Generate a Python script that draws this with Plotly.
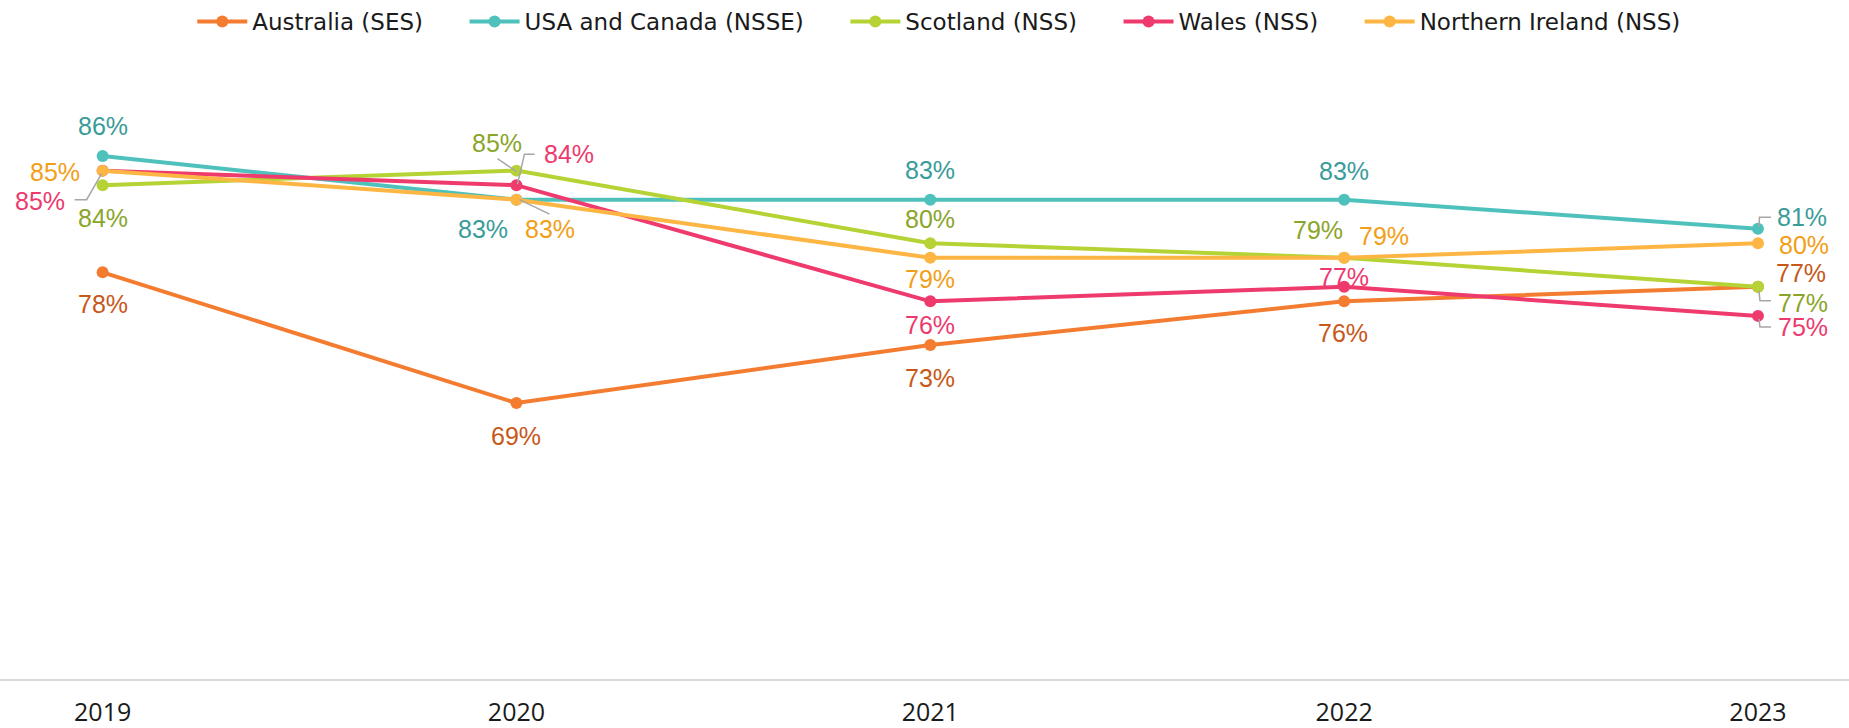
import plotly.graph_objects as go

years = [2019, 2020, 2021, 2022, 2023]
year_labels = ["2019", "2020", "2021", "2022", "2023"]

series_names = ["Australia (SES)", "USA and Canada (NSSE)", "Scotland (NSS)", "Wales (NSS)", "Northern Ireland (NSS)"]
australia = [78, 69, 73, 76, 77]
usa_canada = [86, 83, 83, 83, 81]
scotland = [84, 85, 80, 79, 77]
wales = [85, 84, 76, 77, 75]
northern_ireland = [85, 83, 79, 79, 80]
series_values = [australia, usa_canada, scotland, wales, northern_ireland]

line_colors = ["#F47C30", "#4FC1BC", "#B5D334", "#EE3A6D", "#FDB643"]
label_colors = ["#C8581A", "#3A9C99", "#8AA52A", "#EC3A6E", "#F29E16"]

# label offsets in pixels (dx right, dy down) relative to each point
label_offsets = [
    [(0, 32), (0, 33), (0, 33.5), (-1, 31.5), (43, -14)],
    [(0, -30), (-33, 29.5), (0, -29.5), (0, -29), (44, -11.5)],
    [(0, 33), (-19, -28), (0, -24), (-26, -28), (45, 16)],
    [(-63, 30), (53, -31), (0, 24), (0, -10), (45, 11)],
    [(-48, 1.5), (34, 29.5), (0, 21), (40, -22), (46, 2)],
]

# leader lines: (series index, year index, pixel path with y up)
leaders = [
    (3, 0, [(-1, -3), (-16, -29), (-28, -29)]),
    (2, 1, [(-19, 12), (0, -1)]),
    (3, 1, [(18, 31), (8, 31), (1, 1)]),
    (4, 1, [(3, 0), (33, -14.5)]),
    (1, 4, [(1, 2), (1.5, 11.5), (13, 11.5)]),
    (2, 4, [(1, -4), (2, -14), (13, -14)]),
    (3, 4, [(1, -3), (2, -11), (13, -11)]),
]

fig = go.Figure()
n = len(series_names)
for i, (name, vals, col) in enumerate(zip(series_names, series_values, line_colors)):
    pad = "\u00a0" * 5 if i < n - 1 else ""
    fig.add_trace(go.Scatter(
        x=years, y=vals, name=name + pad, mode="lines+markers",
        line=dict(color=col, width=4),
        marker=dict(color=col, size=12),
        hoverinfo="skip",
    ))

annotations = []
for si, vals in enumerate(series_values):
    for yi, v in enumerate(vals):
        dx, dy = label_offsets[si][yi]
        annotations.append(dict(
            x=years[yi], y=v, xref="x", yref="y",
            text=f"{v}%", showarrow=False,
            xshift=dx, yshift=-dy,
            font=dict(family="Liberation Sans, Arial, sans-serif", size=25, color=label_colors[si]),
        ))

shapes = []
for si, yi, pts in leaders:
    path = "M " + " L ".join(f"{px},{py}" for px, py in pts)
    shapes.append(dict(
        type="path", xref="x", yref="y",
        xsizemode="pixel", ysizemode="pixel",
        xanchor=years[yi], yanchor=series_values[si][yi],
        path=path, line=dict(color="#A6A6A6", width=1.5),
    ))

fig.update_layout(
    width=1849, height=728,
    margin=dict(l=0, r=0, t=98, b=47),
    plot_bgcolor="white", paper_bgcolor="white",
    showlegend=True,
    legend=dict(
        orientation="h", xref="container", yref="container",
        x=0.508, xanchor="center", y=1.0, yanchor="top",
        font=dict(family="DejaVu Sans, sans-serif", size=23, color="#1a1a1a"),
        itemwidth=50, tracegroupgap=0,
    ),
    annotations=annotations,
    shapes=shapes,
    xaxis=dict(
        range=[2018.752, 2023.22], tickvals=years, ticktext=year_labels,
        showgrid=False, zeroline=False,
        showline=True, linecolor="#D9D9D9", linewidth=2,
        ticks="outside", ticklen=10, tickcolor="rgba(0,0,0,0)",
        tickfont=dict(family="Open Sans, sans-serif", size=25, color="#1a1a1a"),
    ),
    yaxis=dict(range=[50, 90], visible=False, showgrid=False, zeroline=False),
)

fig.write_html("out.html", config={"displayModeBar": False},
               post_script="document.body.style.margin='0';document.body.style.overflow='hidden';")
